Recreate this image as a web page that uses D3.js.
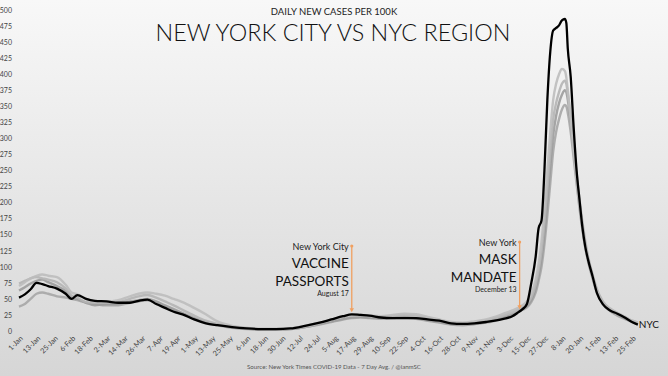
<!DOCTYPE html>
<html><head><meta charset="utf-8">
<script src="https://cdn.jsdelivr.net/npm/d3@7"></script>
<style>body{margin:0;overflow:hidden;background:#fff} svg{display:block;}</style>
</head><body><svg id="c" width="668" height="376"></svg>
<script>
// ---------- DATA ----------
const dates = ["2021-01-01","2021-01-05","2021-01-09","2021-01-13","2021-01-17","2021-01-21","2021-01-27","2021-02-02","2021-02-06","2021-02-10","2021-02-16","2021-02-22","2021-03-02","2021-03-10","2021-03-18","2021-03-24","2021-03-30","2021-04-05","2021-04-11","2021-04-17","2021-04-23","2021-05-01","2021-05-09","2021-05-17","2021-05-27","2021-06-06","2021-06-16","2021-06-26","2021-07-06","2021-07-16","2021-07-26","2021-08-03","2021-08-11","2021-08-17","2021-08-23","2021-08-29","2021-09-06","2021-09-14","2021-09-22","2021-09-30","2021-10-08","2021-10-16","2021-10-24","2021-11-01","2021-11-09","2021-11-17","2021-11-23","2021-11-29","2021-12-05","2021-12-09","2021-12-12","2021-12-15","2021-12-18","2021-12-21","2021-12-23","2021-12-25","2021-12-27","2021-12-29","2021-12-31","2022-01-02","2022-01-04","2022-01-06","2022-01-08","2022-01-10","2022-01-11","2022-01-12","2022-01-14","2022-01-16","2022-01-18","2022-01-20","2022-01-22","2022-01-24","2022-01-26","2022-01-29","2022-02-01","2022-02-05","2022-02-10","2022-02-15","2022-02-20","2022-02-25","2022-03-01"];

const nyc = [52,57,65,75,73,70,66,58,50,56,50,47,46,44,44,47,49,42,36,30,26,18,12,9,6,4,3,3,4,8,13,18,23,26,25,24,21,20,20,20,18,16,12,11,12,14,16,19,23,29,34,42,75,116,160,172,250,360,435,468,472,476,484,486,480,440,396,318,251,205,162,131,110,85,59,42,32,27,21,14,10];

const region1 = [70,76,82,86,88,86,84,72,60,57,50,46,46,48,54,58,60,58,55,50,45,36,26,15,8,5,3,3,4,7,12,17,22,24,25,24,23,25,27,26,22,18,14,13,15,18,22,27,32,36,40,46,58,80,105,140,190,250,310,360,385,400,408,405,395,375,330,280,235,195,160,130,108,82,62,44,34,28,22,16,13];
const region2 = [74,78,82,84,82,80,76,66,55,52,45,44,44,45,50,54,56,52,46,40,33,24,16,11,7,4,3,3,4,8,13,18,22,25,25,23,22,24,25,24,20,16,12,11,13,16,20,24,29,33,37,42,52,72,95,125,170,225,280,330,355,372,385,390,385,370,335,290,245,205,170,140,115,88,65,46,35,28,22,16,13];
const region3 = [63,68,74,78,80,76,70,62,52,50,44,40,42,42,46,48,50,46,40,34,28,20,14,10,6,4,2,2,3,6,11,15,19,21,22,21,20,21,22,20,17,14,11,10,11,14,17,21,26,30,34,39,48,66,85,112,150,200,255,305,335,355,368,375,372,360,325,282,240,200,165,135,112,85,63,45,33,26,20,15,12];
const region4 = [38,42,50,58,60,58,54,52,50,48,44,42,40,40,44,46,48,44,38,32,27,19,13,9,5,3,2,2,3,6,10,14,18,20,21,20,19,20,21,19,16,13,10,9,11,13,16,20,25,29,33,37,45,60,78,100,135,180,230,280,310,330,345,352,350,340,310,270,230,192,158,130,108,82,60,42,31,24,19,14,11];

const yTickValues = d3.range(0, 501, 25);
const xTickDates = ["2021-01-01","2021-01-13","2021-01-25","2021-02-06","2021-02-18","2021-03-02","2021-03-14","2021-03-26","2021-04-07","2021-04-19","2021-05-01","2021-05-13","2021-05-25","2021-06-06","2021-06-18","2021-06-30","2021-07-12","2021-07-24","2021-08-05","2021-08-17","2021-08-29","2021-09-10","2021-09-22","2021-10-04","2021-10-16","2021-10-28","2021-11-09","2021-11-21","2021-12-03","2021-12-15","2021-12-27","2022-01-08","2022-01-20","2022-02-01","2022-02-13","2022-02-25"];
const xTickLabels = ["1-Jan","13-Jan","25-Jan","6-Feb","18-Feb","2-Mar","14-Mar","26-Mar","7-Apr","19-Apr","1-May","13-May","25-May","6-Jun","18-Jun","30-Jun","12-Jul","24-Jul","5-Aug","17-Aug","29-Aug","10-Sep","22-Sep","4-Oct","16-Oct","28-Oct","9-Nov","21-Nov","3-Dec","15-Dec","27-Dec","8-Jan","20-Jan","1-Feb","13-Feb","25-Feb"];

const annotations = [
  {date:"2021-08-17", top:"New York City", big:["VACCINE","PASSPORTS"], sub:"August 17"},
  {date:"2021-12-10", top:"New York", big:["MASK","MANDATE"], sub:"December 13"}
];

// ---------- CHART ----------
const parse = d3.timeParse("%Y-%m-%d");
const W = 668, H = 376;
const svg = d3.select("#c");
const defs = svg.append("defs");
const grad = defs.append("linearGradient").attr("id","bg").attr("x1",0).attr("y1",0).attr("x2",0).attr("y2",1);
grad.append("stop").attr("offset","0%").attr("stop-color","#f8f8f8");
grad.append("stop").attr("offset","100%").attr("stop-color","#d6d6d6");
svg.append("rect").attr("width",W).attr("height",H).attr("fill","url(#bg)");

const x = d3.scaleTime().domain([parse("2021-01-01"), parse("2022-02-25")]).range([19, 632]);
const y = d3.scaleLinear().domain([0, 500]).range([331, 10]);

const font = "Lato, 'Open Sans', sans-serif";

// y axis labels
const yAxis = d3.axisLeft(y).tickValues(yTickValues).tickSize(0).tickPadding(0);
const gy = svg.append("g").attr("transform","translate(12,0)").call(yAxis);
gy.select(".domain").remove();
gy.selectAll("text").attr("font-family",font).attr("font-size",7).attr("fill","#444");

// x axis labels
const xAxis = d3.axisBottom(x).tickValues(xTickDates.map(parse)).tickSize(0).tickFormat((d,i)=>xTickLabels[i]);
const gx = svg.append("g").attr("transform","translate(0,334)").call(xAxis);
gx.select(".domain").remove();
gx.selectAll("text").attr("font-family",font).attr("font-size",7.3).attr("fill","#444")
  .attr("text-anchor","end").attr("dy","0.35em").attr("y",0)
  .attr("transform","translate(2,3) rotate(-45)");

// lines
const line = vals => d3.line().x((d,i)=>x(parse(dates[i]))).y(d=>y(d)).curve(d3.curveMonotoneX)(vals);
const grays = [
  {v:region4, c:"#a6a6a6"},
  {v:region3, c:"#9c9c9c"},
  {v:region2, c:"#b4b4b4"},
  {v:region1, c:"#bdbdbd"}
];
grays.forEach(g=>{
  svg.append("path").attr("d",line(g.v)).attr("fill","none").attr("stroke",g.c)
    .attr("stroke-width",2.4).attr("stroke-linejoin","round").attr("opacity",0.9);
});
svg.append("path").attr("d",line(nyc)).attr("fill","none").attr("stroke","#000")
  .attr("stroke-width",2.3).attr("stroke-linejoin","round");

// NYC label
svg.append("text").attr("x", x(parse(dates[dates.length-1]))+1).attr("y", 328)
  .attr("font-family",font).attr("font-size",10).attr("fill","#111").text("NYC");

// annotations
const orange = "#f0a060";
annotations.forEach(a=>{
  const d = parse(a.date);
  const ax = x(d);
  const topY = a.big[0]==="VACCINE" ? 246 : 242;
  const bis = d3.bisector(s=>parse(s)).left(dates, d);
  const d0 = parse(dates[bis-1]), d1 = parse(dates[bis]);
  const t = (d - d0)/(d1 - d0);
  const v = nyc[bis-1] + t*(nyc[bis]-nyc[bis-1]);
  const tipY = y(v) - 2;
  svg.append("line").attr("x1",ax).attr("x2",ax).attr("y1",topY).attr("y2",tipY-3)
    .attr("stroke",orange).attr("stroke-width",1.3);
  svg.append("circle").attr("cx",ax).attr("cy",topY).attr("r",1.6).attr("fill",orange);
  svg.append("path").attr("d",`M${ax-2.2},${tipY-4} L${ax+2.2},${tipY-4} L${ax},${tipY} Z`).attr("fill",orange);
  const tx = ax - 3;
  svg.append("text").attr("x",tx).attr("y",topY+3.5).attr("text-anchor","end")
    .attr("font-family",font).attr("font-size",9).attr("fill","#222").text(a.top);
  svg.append("text").attr("x",tx).attr("y",topY+21.5).attr("text-anchor","end")
    .attr("font-family",font).attr("font-size",13.5).attr("fill","#111").text(a.big[0]);
  svg.append("text").attr("x",tx).attr("y",topY+39.5).attr("text-anchor","end")
    .attr("font-family",font).attr("font-size",13.5).attr("fill","#111").text(a.big[1]);
  svg.append("text").attr("x",tx).attr("y",topY+49.5).attr("text-anchor","end")
    .attr("font-family",font).attr("font-size",7).attr("fill","#222").text(a.sub);
});

// titles
svg.append("text").attr("x",334).attr("y",15).attr("text-anchor","middle")
  .attr("font-family",font).attr("font-size",9.5).attr("fill","#222").text("DAILY NEW CASES PER 100K");
svg.append("text").attr("x",333).attr("y",41).attr("text-anchor","middle")
  .attr("font-family",font).attr("font-weight",300).attr("font-size",23.4).attr("fill","#111")
  .text("NEW YORK CITY VS NYC REGION");
svg.append("text").attr("x",334).attr("y",369).attr("text-anchor","middle")
  .attr("font-family",font).attr("font-size",6.1).attr("fill","#555")
  .text("Source: New York Times COVID-19 Data - 7 Day Avg. / @ianmSC");
</script></body></html>
